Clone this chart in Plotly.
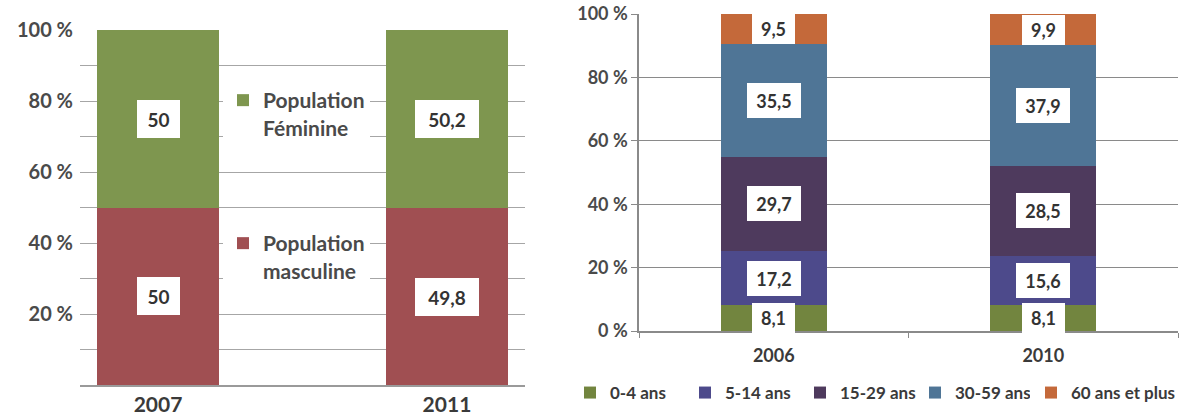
import plotly.graph_objects as go

# Left panel: population by sex (%)
sex_years = ["2007", "2011"]
sex_groups = ["Population<br>masculine", "Population<br>Féminine"]
sex_values = [
    [50, 49.8],   # masculine
    [50, 50.2],   # féminine
]
sex_colors = ["#A04F52", "#7E964F"]

# Right panel: population by age group (%)
age_years = ["2006", "2010"]
age_groups = ["0-4 ans", "5-14 ans", "15-29 ans", "30-59 ans", "60 ans et plus"]
age_values = [
    [8.1, 8.1],
    [17.2, 15.6],
    [29.7, 28.5],
    [35.5, 37.9],
    [9.5, 9.9],
]
age_colors = ["#72853F", "#4D4A8B", "#4E3A5D", "#4F7596", "#C4693A"]

left_ticks = [10, 20, 30, 40, 50, 60, 70, 80, 90, 100]
left_ticktext = ["", "20 %", "", "40 %", "", "60 %", "", "80 %", "", "100 %"]
right_ticks = [0, 20, 40, 60, 80, 100]
right_ticktext = ["0 %", "20 %", "40 %", "60 %", "80 %", "100 %"]

FONT = "Lato"
W, H = 1186, 415


def fmt(v):
    return f"{v:g}".replace(".", ",")


def bold(size, color):
    return dict(family=FONT, size=size, color=color, weight="bold")


fig = go.Figure()

legend_ids = ["legend2", "legend"]
for i, (name, vals, col) in enumerate(zip(sex_groups, sex_values, sex_colors)):
    fig.add_trace(go.Bar(
        x=sex_years, y=vals, name=name, width=0.42,
        marker=dict(color=col, line=dict(width=0)),
        xaxis="x", yaxis="y", legend=legend_ids[i],
    ))

# the last age group sits in its own legend so its long label is not clipped
age_legends = ["legend3", "legend3", "legend3", "legend3", "legend4"]
for name, vals, col, lg in zip(age_groups, age_values, age_colors, age_legends):
    fig.add_trace(go.Bar(
        x=age_years, y=vals, name=name, width=0.395,
        marker=dict(color=col, line=dict(width=0)),
        xaxis="x2", yaxis="y2", legend=lg,
    ))

annotations = []
# value boxes, left panel
for j, yr in enumerate(sex_years):
    base = 0
    for vals in sex_values:
        v = vals[j]
        txt = fmt(v)
        annotations.append(dict(
            x=j, y=base + v / 2, xref="x", yref="y", text=txt, showarrow=False,
            font=bold(19, "#333333"),
            bgcolor="white", width=43 if len(txt) < 3 else 64, height=38,
            borderpad=0, borderwidth=0,
        ))
        base += v

# value boxes, right panel
for j, yr in enumerate(age_years):
    base = 0
    for vals in age_values:
        v = vals[j]
        txt = fmt(v)
        short = len(txt) <= 3
        annotations.append(dict(
            x=j, y=base + v / 2, xref="x2", yref="y2", text=txt, showarrow=False,
            font=bold(18, "#333333"),
            bgcolor="white", width=43 if short else 54, height=30 if short else 35,
            borderpad=0, borderwidth=0,
        ))
        base += v

legend_font = bold(17, "#3a3a3a")

fig.update_layout(
    width=W, height=H,
    margin=dict(l=0, r=0, t=0, b=0, autoexpand=False),
    paper_bgcolor="white", plot_bgcolor="white",
    barmode="stack",
    font=dict(family=FONT, color="#454545"),
    annotations=annotations,
    xaxis=dict(
        domain=[80 / W, 525 / W], range=[-0.27, 1.27], type="category",
        showline=True, linecolor="#9a9a9a", linewidth=1.5, ticks="",
        showgrid=False, automargin=False,
        tickfont=bold(21, "#3a3a3a"),
        ticklabelstandoff=0, anchor="y",
    ),
    yaxis=dict(
        domain=[30 / H, 385 / H], range=[0, 100],
        tickvals=left_ticks, ticktext=left_ticktext,
        showgrid=True, gridcolor="#a6a6a6", gridwidth=1.2,
        zeroline=False, showline=False, ticks="", automargin=False,
        tickfont=bold(20, "#4a4a4a"),
        ticklabelstandoff=6, anchor="x",
    ),
    xaxis2=dict(
        domain=[639 / W, 1178 / W], range=[-0.5, 1.5], type="category",
        showline=True, linecolor="#8a8a8a", linewidth=1.5,
        ticks="outside", tickson="boundaries", ticklen=5, tickcolor="#8a8a8a",
        showgrid=False, automargin=False,
        tickfont=bold(18, "#3a3a3a"),
        ticklabelstandoff=8, anchor="y2",
    ),
    yaxis2=dict(
        domain=[84 / H, 401 / H], range=[0, 100],
        tickvals=right_ticks, ticktext=right_ticktext,
        showgrid=True, gridcolor="#8a8a8a", gridwidth=1.2,
        zeroline=False, showline=True, linecolor="#8a8a8a", linewidth=1.5,
        ticks="outside", ticklen=6, tickcolor="#8a8a8a", automargin=False,
        tickfont=bold(18, "#4a4a4a"),
        anchor="x2",
    ),
    legend=dict(
        xref="container", yref="container",
        x=223 / W, y=1 - 80 / H, xanchor="left", yanchor="top",
        bgcolor="white", borderwidth=0, valign="top",
        font=bold(21, "#4a4a4a"),
    ),
    legend2=dict(
        xref="container", yref="container",
        x=223 / W, y=1 - 223 / H, xanchor="left", yanchor="top",
        bgcolor="white", borderwidth=0, valign="top",
        font=bold(21, "#4a4a4a"),
    ),
    legend3=dict(
        xref="container", yref="container",
        orientation="h", traceorder="normal", entrywidth=70,
        x=570 / W, y=1 - 375 / H, xanchor="left", yanchor="top",
        bgcolor="rgba(0,0,0,0)", borderwidth=0,
        font=legend_font,
    ),
    legend4=dict(
        xref="container", yref="container",
        orientation="h", traceorder="normal",
        x=1031 / W, y=1 - 375 / H, xanchor="left", yanchor="top",
        bgcolor="rgba(0,0,0,0)", borderwidth=0,
        font=legend_font,
    ),
    showlegend=True,
)

fig.write_html("out.html")
